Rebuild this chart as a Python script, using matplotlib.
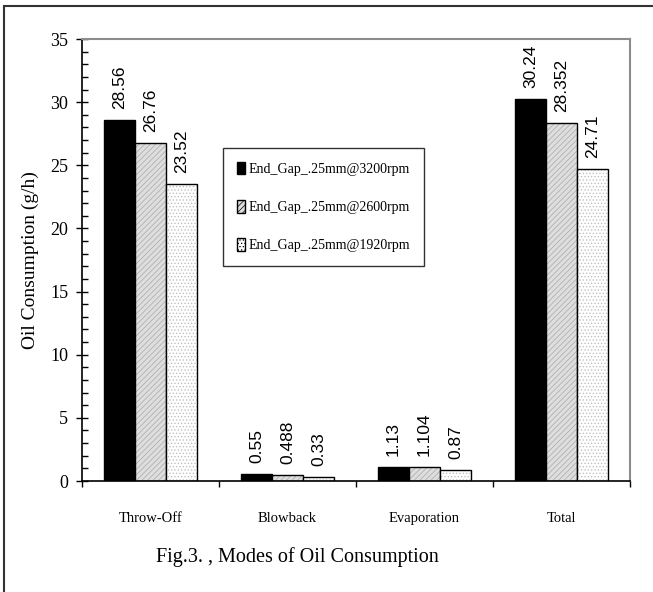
import numpy as np
import matplotlib
matplotlib.use('Agg')
import matplotlib.pyplot as plt
from matplotlib.patches import Rectangle
from matplotlib.ticker import MultipleLocator

# data
categories = ['Throw-Off', 'Blowback', 'Evaporation', 'Total']
series_names = ['End_Gap_.25mm@3200rpm', 'End_Gap_.25mm@2600rpm', 'End_Gap_.25mm@1920rpm']
rpm3200 = [28.56, 0.55, 1.13, 30.24]
rpm2600 = [26.76, 0.488, 1.104, 28.352]
rpm1920 = [23.52, 0.33, 0.87, 24.71]
label_text = [
    ['28.56', '0.55', '1.13', '30.24'],
    ['26.76', '0.488', '1.104', '28.352'],
    ['23.52', '0.33', '0.87', '24.71'],
]

serif = 'Liberation Serif'
sans = 'Liberation Sans'

plt.rcParams['hatch.linewidth'] = 0.5

fig = plt.figure(figsize=(6.53, 5.92), dpi=100)
ax = fig.add_axes([82/653, 1 - 481/592, (630 - 82)/653, (481 - 39)/592])

# outer frame (runs off the right and bottom edge in the original)
fig.patches.append(Rectangle((4/653, -0.05), 1.1, 1 - 6/592 + 0.05,
                             transform=fig.transFigure, fill=False,
                             edgecolor='#333333', linewidth=1.5))

x = np.arange(len(categories))
w = 0.226
# fill colour, hatch, hatch colour
styles = [
    ('black', None, 'black'),
    ('#dedede', '//////', '#a8a8a8'),
    ('#fdfdfd', '.....', '#bdbdbd'),
]

all_vals = [rpm3200, rpm2600, rpm1920]
handles = []
for i, vals in enumerate(all_vals):
    fc, hatch, hc = styles[i]
    pos = x + (i - 1) * w
    # hatch layer (hatch takes the edge colour), then black outline on top
    ax.bar(pos, vals, w, color=fc, edgecolor=hc, hatch=hatch, linewidth=0)
    bars = ax.bar(pos, vals, w, fill=False, edgecolor='black', linewidth=1.0)
    for b, t in zip(bars, label_text[i]):
        ax.annotate(t, (b.get_x() + b.get_width() / 2, b.get_height()),
                    xytext=(0, 8), textcoords='offset points',
                    rotation=90, ha='center', va='bottom',
                    fontsize=12.5, family=sans)
    handles.append(Rectangle((0, 0), 1, 1, facecolor=fc, hatch=hatch,
                             edgecolor='black', linewidth=1.0))

ax.set_xlim(-0.5, 3.5)
ax.set_ylim(0, 35)
ax.yaxis.set_major_locator(MultipleLocator(5))
ax.yaxis.set_minor_locator(MultipleLocator(1))
ax.tick_params(axis='y', which='major', direction='inout', length=8, width=1,
               labelsize=13, pad=6)
ax.tick_params(axis='y', which='minor', direction='in', length=4, width=1)
for lab in ax.get_yticklabels():
    lab.set_family(serif)

ax.set_xticks(x)
ax.set_xticklabels(categories, family=serif, fontsize=10.5)
ax.set_xticks(np.arange(-0.5, 4, 1), minor=True)
ax.tick_params(axis='x', which='major', length=0, pad=22)
ax.tick_params(axis='x', which='minor', direction='out', length=4, width=1)

ax.set_ylabel('Oil Consumption (g/h)', family=serif, fontsize=14, labelpad=8)

for s in ['left', 'bottom']:
    ax.spines[s].set_color('black')
    ax.spines[s].set_linewidth(1.2)
for s in ['top', 'right']:
    ax.spines[s].set_color('#8c8c8c')
    ax.spines[s].set_linewidth(1.5)

leg = ax.legend(handles=handles, labels=series_names, loc='upper left',
                bbox_to_anchor=((223 - 82) / 548, (481 - 148) / 442),
                prop={'family': serif, 'size': 10},
                frameon=True, fancybox=False, edgecolor='black',
                handlelength=0.6, handleheight=1.0, handletextpad=0.25,
                labelspacing=1.75, borderpad=1.0, borderaxespad=0)
leg.get_frame().set_linewidth(1.0)

fig.text(297/653, 1 - 557/592, 'Fig.3. , Modes of Oil Consumption',
         ha='center', va='center', family=serif, fontsize=14.5)

fig.savefig('out.png', dpi=100)
